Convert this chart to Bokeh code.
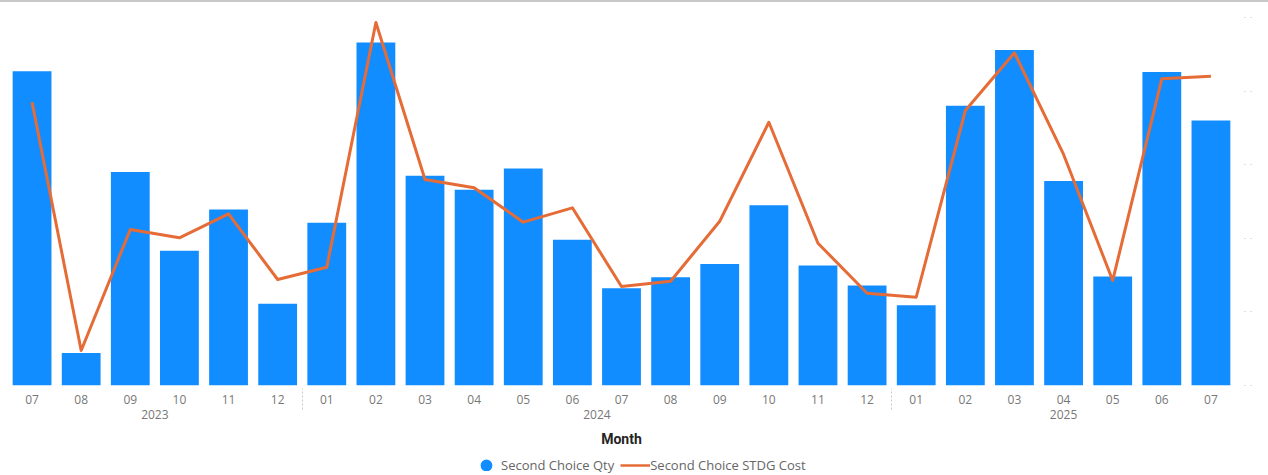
from bokeh.plotting import figure
from bokeh.models import (FactorRange, Range1d, LinearAxis, Legend, LegendItem,
                          SingleIntervalTicker, Div, ColumnDataSource)
from bokeh.layouts import column
from bokeh.embed import file_html
from bokeh.resources import INLINE

# ---- data ----
years = ["2023"] * 6 + ["2024"] * 12 + ["2025"] * 7
months = ["07", "08", "09", "10", "11", "12",
          "01", "02", "03", "04", "05", "06", "07", "08", "09", "10", "11", "12",
          "01", "02", "03", "04", "05", "06", "07"]
qty = [427, 44, 290, 183, 239, 111,
       221, 466, 285, 266, 295, 198, 132, 147, 165, 245, 163, 136,
       109, 380, 456, 278, 148, 426, 360]
cost = [3849, 476, 2120, 2007, 2333, 1440,
        1607, 4932, 2799, 2686, 2219, 2414, 1345, 1417, 2232, 3577, 1933, 1254,
        1200, 3736, 4520, 3139, 1427, 4167, 4202]
qty_ticks = [0, 100, 200, 300, 400, 500]
series_names = ["Second Choice Qty", "Second Choice STDG Cost"]

factors = list(zip(years, months))
src = ColumnDataSource(dict(x=factors, qty=qty, cost=cost))

BLUE = "#118DFF"
ORANGE = "#E66C37"

# ---------------- main chart ----------------
p = figure(x_range=FactorRange(*factors, group_padding=0, subgroup_padding=0,
                               factor_padding=0, range_padding=0),
           y_range=Range1d(0, 509.5),
           width=1268, height=449,
           frame_width=1228, frame_height=375,
           min_border_left=7, min_border_right=33, min_border_top=8, min_border_bottom=0,
           output_backend="svg", toolbar_location=None, y_axis_location=None)
p.extra_y_ranges = {"cost": Range1d(0, 5095)}
p.outline_line_color = None
p.grid.visible = False
p.background_fill_color = "white"
p.border_fill_color = "white"

p.vbar(x="x", top="qty", width=0.79, source=src, fill_color=BLUE, line_color=None)
p.line(x="x", y="cost", source=src, y_range_name="cost",
       line_color=ORANGE, line_width=3, line_join="round")

xa = p.xaxis[0]
xa.axis_line_color = None
xa.major_tick_line_color = None
xa.major_label_text_font = "Open Sans"
xa.major_label_text_font_size = "12px"
xa.major_label_text_color = "#777777"
xa.group_text_font = "Open Sans"
xa.group_text_font_size = "12px"
xa.group_text_font_style = "normal"
xa.group_text_color = "#777777"
xa.separator_line_color = "#c8c8c8"
xa.separator_line_width = 1
xa.separator_line_dash = "2 2"
xa.axis_label = "Month"
xa.axis_label_text_font = "Roboto"
xa.axis_label_text_font_style = "bold"
xa.axis_label_text_font_size = "14px"
xa.axis_label_text_color = "#252423"
xa.axis_label_standoff = 9
xa.major_label_standoff = 3

ra = LinearAxis(ticker=SingleIntervalTicker(interval=100),
                axis_line_color=None, minor_tick_line_color=None,
                major_tick_in=-8, major_tick_out=16,
                major_tick_line_color="#c0c0c0", major_tick_line_dash="1 5",
                major_label_overrides={t: "" for t in qty_ticks},
                major_label_standoff=0)
p.add_layout(ra, "right")

# ---------------- legend strip ----------------
lg = figure(width=1268, height=24, x_range=Range1d(0, 1), y_range=Range1d(0, 1),
            min_border_left=0, min_border_right=0, min_border_top=0, min_border_bottom=0,
            output_backend="svg", toolbar_location=None,
            x_axis_location=None, y_axis_location=None)
lg.outline_line_color = None
lg.grid.visible = False
lg.border_fill_color = "white"
# legend-only glyphs, placed outside the strip's visible range
dot_r = lg.scatter(x=[-5], y=[-5], marker="circle", fill_color=BLUE,
                   line_color=BLUE, line_width=7)
ln_r = lg.line(x=[-6, -5], y=[-5, -5], line_color=ORANGE, line_width=2.5)

legend = Legend(items=[LegendItem(label=series_names[0], renderers=[dot_r]),
                       LegendItem(label=series_names[1], renderers=[ln_r])],
                orientation="horizontal", location=(464, -1),
                glyph_width=30, glyph_height=12, label_height=12, label_standoff=0,
                spacing=6, padding=0, margin=0, border_line_color=None,
                background_fill_alpha=0,
                label_text_font="Open Sans", label_text_font_size="13px",
                label_text_color="#666666")
lg.add_layout(legend, "center")

top_line = Div(width=1268, height=2, margin=0, styles={"background-color": "#c8c8c8"})
layout = column(top_line, p, lg, spacing=0)

open("out.html", "w").write(file_html(layout, INLINE))
